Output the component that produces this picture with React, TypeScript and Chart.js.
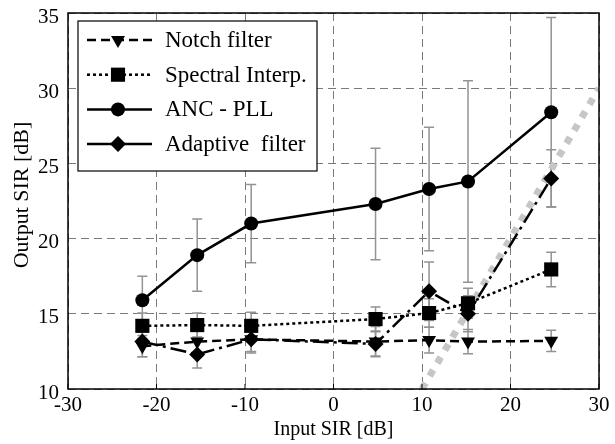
import React, { useEffect, useRef } from 'react';
import { Chart, registerables } from 'chart.js';

Chart.register(...registerables);

// ---- data ----
const inputSIR = [-21.6, -15.4, -9.3, 4.75, 10.8, 15.2, 24.6];
const notchFilter = [12.85, 13.15, 13.3, 13.15, 13.25, 13.15, 13.2];
const notchErr = [0.7, 0.7, 0.8, 1.0, 0.85, 0.8, 0.7];
const spectralInterp = [14.2, 14.25, 14.2, 14.65, 15.05, 15.7, 17.95];
const spectralErr = [0.85, 0.8, 0.9, 0.8, 0.95, 1.0, 1.15];
const ancPll = [15.9, 18.9, 21.0, 22.3, 23.3, 23.8, 28.4];
const ancErr = [1.6, 2.4, 2.6, 3.7, 4.1, 6.7, 6.3];
const adaptiveFilter = [13.15, 12.3, 13.3, 13.0, 16.5, 15.0, 24.0];
const adaptiveErr = [1.0, 0.9, 0.9, 0.8, 1.95, 1.2, 1.9];
const refLineX = [10, 30];
const refLineY = [10, 30];
const seriesNames = ['Notch filter', 'Spectral Interp.', 'ANC - PLL', 'Adaptive  filter'];
const xTitle = 'Input SIR [dB]';
const yTitle = 'Output SIR [dB]';
const xMin = -30, xMax = 30, xStep = 10;
const yMin = 10, yMax = 35, yStep = 5;

const FONT = '"Liberation Serif", "Times New Roman", serif';

const toPts = (xs: number[], ys: number[]) => xs.map((x, i) => ({ x, y: ys[i] }));

type Style = { dash: number[]; point: string; radius: number; rotation: number };
const styles: Style[] = [
  { dash: [9, 5], point: 'triangle', radius: 8, rotation: 180 },
  { dash: [3, 3], point: 'rect', radius: 10, rotation: 0 },
  { dash: [], point: 'circle', radius: 7, rotation: 0 },
  { dash: [16, 5, 3, 5], point: 'rectRot', radius: 8, rotation: 0 },
];
const errorsBySeries = [notchErr, spectralErr, ancErr, adaptiveErr];

function drawMarker(ctx: CanvasRenderingContext2D, style: string, x: number, y: number, r: number, rot: number) {
  ctx.beginPath();
  if (style === 'circle') {
    ctx.arc(x, y, r, 0, Math.PI * 2);
  } else if (style === 'rect') {
    const s = r * Math.SQRT1_2;
    ctx.rect(x - s, y - s, 2 * s, 2 * s);
  } else if (style === 'rectRot') {
    ctx.moveTo(x, y - r);
    ctx.lineTo(x + r, y);
    ctx.lineTo(x, y + r);
    ctx.lineTo(x - r, y);
    ctx.closePath();
  } else if (style === 'triangle') {
    let rad = (rot * Math.PI) / 180;
    ctx.moveTo(x + Math.sin(rad) * r, y - Math.cos(rad) * r);
    rad += (2 * Math.PI) / 3;
    ctx.lineTo(x + Math.sin(rad) * r, y - Math.cos(rad) * r);
    rad += (2 * Math.PI) / 3;
    ctx.lineTo(x + Math.sin(rad) * r, y - Math.cos(rad) * r);
    ctx.closePath();
  }
  ctx.fillStyle = '#000';
  ctx.fill();
}

const errorBarPlugin = {
  id: 'errorBars',
  beforeDatasetsDraw(chart: any) {
    const { ctx, scales } = chart;
    const xs = scales.x, ys = scales.y;
    ctx.save();
    ctx.strokeStyle = '#939393';
    ctx.lineWidth = 1.5;
    ctx.setLineDash([]);
    errorsBySeries.forEach((errs, si) => {
      const ds = chart.data.datasets[si];
      ds.data.forEach((p: any, i: number) => {
        const px = xs.getPixelForValue(p.x);
        const top = ys.getPixelForValue(p.y + errs[i]);
        const bot = ys.getPixelForValue(p.y - errs[i]);
        ctx.beginPath();
        ctx.moveTo(px, top); ctx.lineTo(px, bot);
        ctx.moveTo(px - 5, top); ctx.lineTo(px + 5, top);
        ctx.moveTo(px - 5, bot); ctx.lineTo(px + 5, bot);
        ctx.stroke();
      });
    });
    ctx.restore();
  },
};

const framePlugin = {
  id: 'frameLegend',
  afterDatasetsDraw(chart: any) {
    const { ctx, chartArea: a, scales } = chart;
    ctx.save();
    // small inner ticks on bottom axis
    ctx.strokeStyle = '#000';
    ctx.lineWidth = 1;
    ctx.setLineDash([]);
    scales.x.ticks.forEach((t: any) => {
      const px = scales.x.getPixelForValue(t.value);
      ctx.beginPath();
      ctx.moveTo(px, a.bottom); ctx.lineTo(px, a.bottom - 5);
      ctx.stroke();
    });
    // frame
    ctx.lineWidth = 1.5;
    ctx.strokeRect(a.left, a.top, a.right - a.left, a.bottom - a.top);

    // y-axis title
    ctx.save();
    ctx.translate(22, 195);
    ctx.rotate(-Math.PI / 2);
    ctx.font = '22px ' + FONT;
    ctx.fillStyle = '#000';
    ctx.textAlign = 'center';
    ctx.textBaseline = 'middle';
    ctx.fillText(yTitle, 0, 0);
    ctx.restore();

    // legend
    const bx = a.left + 10, by = a.top + 8, bw = 239, bh = 150;
    ctx.fillStyle = '#fff';
    ctx.fillRect(bx, by, bw, bh);
    ctx.lineWidth = 1.2;
    ctx.strokeStyle = '#000';
    ctx.strokeRect(bx, by, bw, bh);
    ctx.font = '23px ' + FONT;
    ctx.textBaseline = 'middle';
    seriesNames.forEach((name, i) => {
      const st = styles[i];
      const cy = by + 19 + i * 34.7;
      ctx.setLineDash(i === 3 ? [] : st.dash);
      ctx.lineWidth = 2.5;
      ctx.strokeStyle = '#000';
      ctx.beginPath();
      ctx.moveTo(bx + 9, cy); ctx.lineTo(bx + 74, cy);
      ctx.stroke();
      ctx.setLineDash([]);
      drawMarker(ctx, st.point, bx + 40, cy, st.radius, st.rotation);
      ctx.fillStyle = '#000';
      ctx.fillText(name, bx + 87, cy + 1);
    });
    ctx.restore();
  },
};

export default function App() {
  const ref = useRef<HTMLCanvasElement | null>(null);
  useEffect(() => {
    if (!ref.current) return;
    const seriesData = [notchFilter, spectralInterp, ancPll, adaptiveFilter];
    const datasets: any[] = seriesData.map((ys, i) => ({
      label: seriesNames[i],
      data: toPts(inputSIR, ys),
      borderColor: '#000',
      backgroundColor: '#000',
      borderWidth: 2.5,
      borderDash: styles[i].dash,
      pointStyle: styles[i].point,
      pointRadius: styles[i].radius,
      pointRotation: styles[i].rotation,
      pointBorderWidth: 0,
      pointBackgroundColor: '#000',
      tension: 0,
      fill: false,
    }));
    datasets.push({
      label: 'reference',
      data: toPts(refLineX, refLineY),
      borderColor: '#c6c6c6',
      borderWidth: 7,
      borderDash: [7, 8],
      pointRadius: 0,
      fill: false,
    });
    const chart = new Chart(ref.current, {
      type: 'line',
      data: { datasets },
      options: {
        animation: false,
        responsive: false,
        layout: { padding: { top: 13, right: 16, left: 0, bottom: 0 } },
        plugins: { legend: { display: false }, tooltip: { enabled: false } },
        scales: {
          x: {
            type: 'linear',
            min: xMin, max: xMax,
            ticks: { stepSize: xStep, padding: 4, color: '#000', font: { family: FONT, size: 21 }, maxRotation: 0 },
            grid: { color: '#7a7a7a', lineWidth: 1, drawTicks: false },
            border: { display: false, dash: [8, 5] },
            title: { display: true, text: xTitle, color: '#000', font: { family: FONT, size: 20 }, padding: { top: 0, bottom: 2 } },
            afterFit: (s: any) => { s.height = 55; s.paddingLeft = 0; s.paddingRight = 0; },
          },
          y: {
            type: 'linear',
            min: yMin, max: yMax,
            ticks: { stepSize: yStep, padding: 9, labelOffset: 4, color: '#000', font: { family: FONT, size: 21 } },
            grid: { color: '#7a7a7a', lineWidth: 1, drawTicks: false },
            border: { display: false, dash: [8, 5] },
            title: { display: false },
            afterFit: (s: any) => { s.width = 68; s.paddingTop = 0; s.paddingBottom = 0; },
          },
        },
      },
      plugins: [errorBarPlugin, framePlugin],
    } as any);
    return () => chart.destroy();
  }, []);
  return (
    <div style={{ position: 'absolute', left: 0, top: 0, width: 615, height: 444, background: '#fff' }}>
      <canvas ref={ref} width={615} height={444} />
    </div>
  );
}
